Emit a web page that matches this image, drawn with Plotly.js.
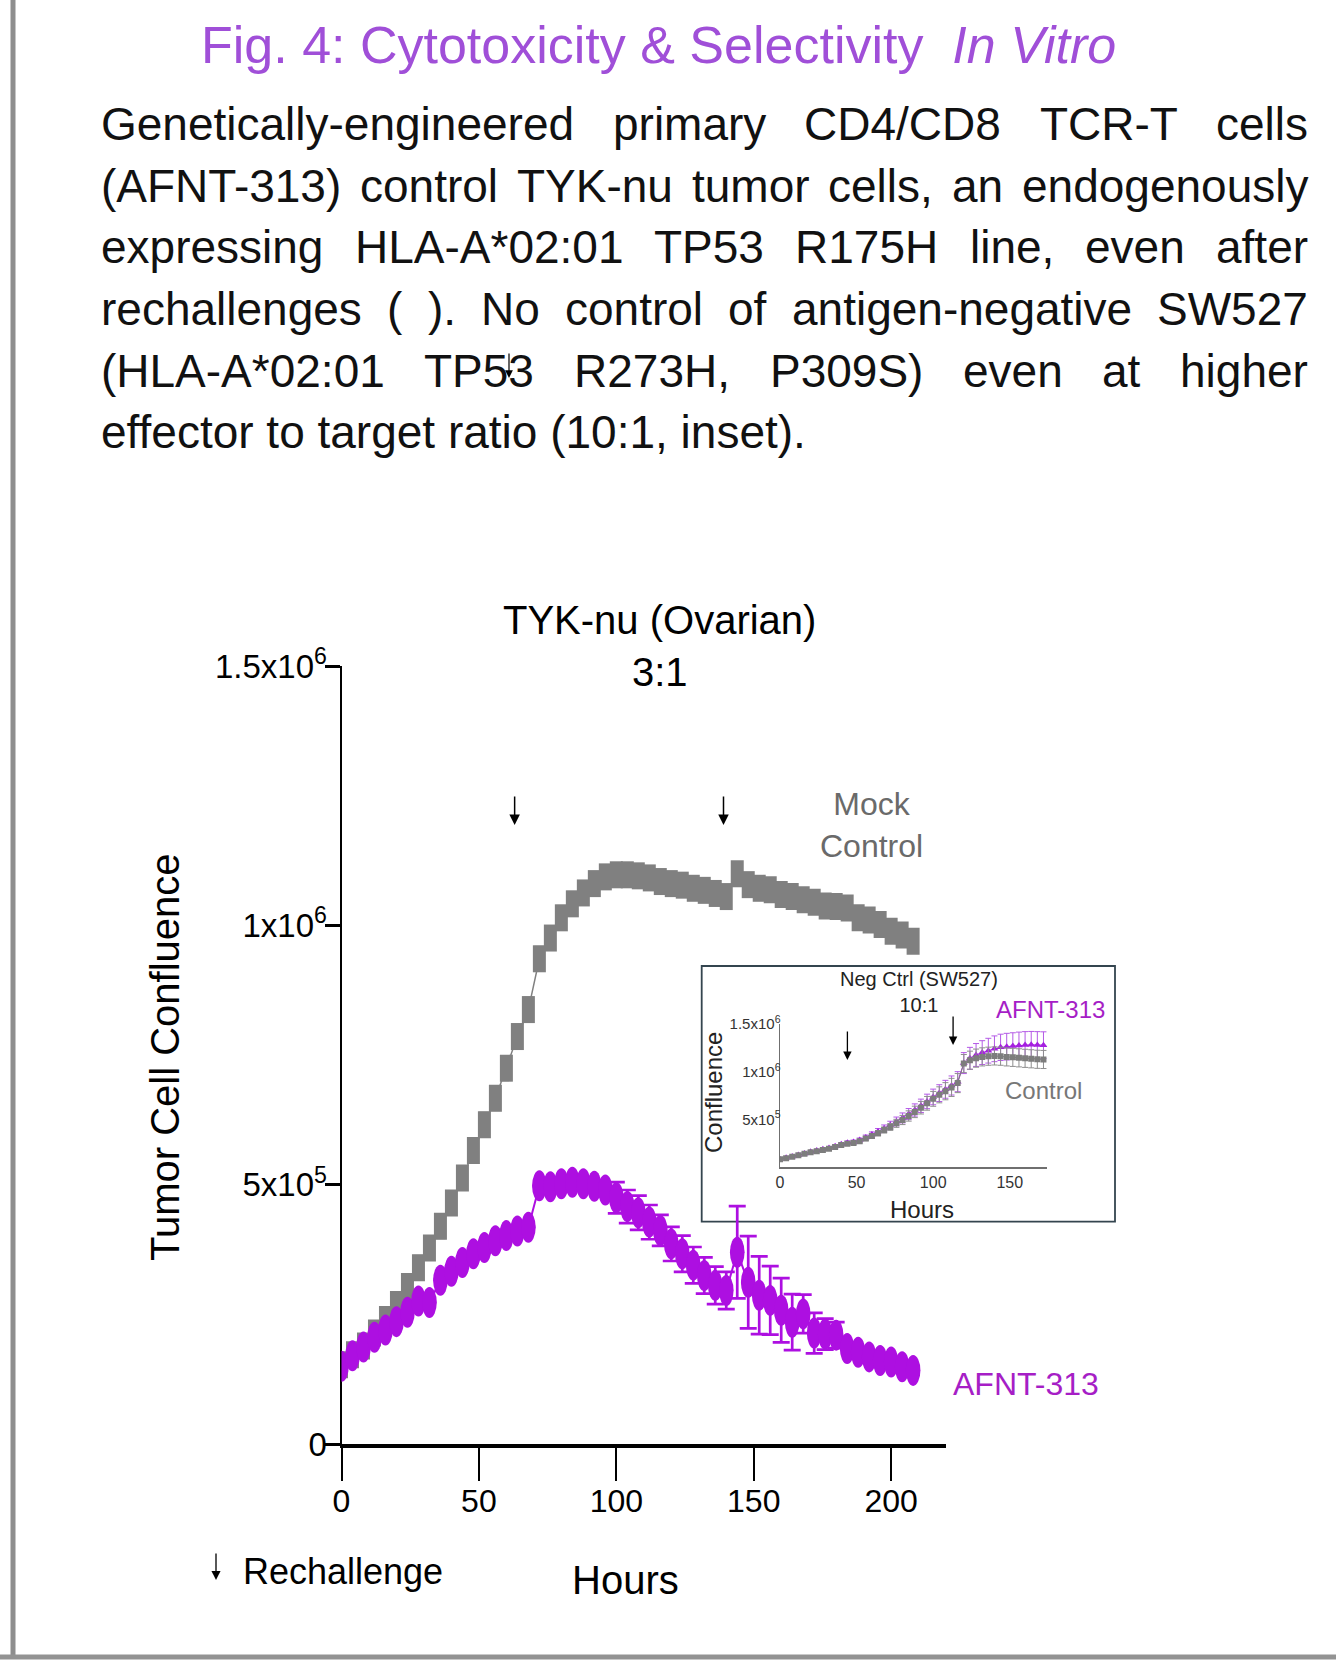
<!DOCTYPE html>
<html>
<head>
<meta charset="utf-8">
<script src="https://cdn.plot.ly/plotly-3.0.1.min.js"></script>
<style>
html,body{margin:0;padding:0;background:#fff;}
#chart{width:1336px;height:1667px;}
</style>
</head>
<body>
<div id="chart"></div>
<script>
// ================= DATA =================
// Main panel: TYK-nu (Ovarian) 3:1
const hours = [0,4,8,12,16,20,24,28,32,36,40,44,48,52,56,60,64,68,72,76,80,84,88,92,96,100,104,108,112,116,120,124,128,132,136,140,144,148,152,156,160,164,168,172,176,180,184,188,192,196,200,204,208];
const mockControl = [153000,172000,189000,214000,240000,269000,304000,340000,378000,420000,465000,513000,566000,616000,667000,725000,786000,838000,936000,976000,1015000,1042000,1063000,1081000,1094000,1098000,1098000,1096000,1092000,1085000,1081000,1078000,1072000,1068000,1062000,1056000,1100000,1079000,1072000,1069000,1060000,1056000,1050000,1045000,1038000,1037000,1034000,1015000,1011000,1002000,989000,982000,970000];
const mockControlSem = [NaN,NaN,NaN,NaN,NaN,NaN,NaN,24000,24000,24000,24000,24000,24000,24000,24000,24000,24000,24000,24000,24000,24000,24000,NaN,NaN,NaN,NaN,NaN,NaN,NaN,NaN,NaN,NaN,NaN,NaN,NaN,NaN,NaN,NaN,NaN,NaN,NaN,NaN,NaN,NaN,NaN,NaN,NaN,NaN,NaN,NaN,NaN,NaN,NaN];
const afnt313 = [150000,170000,187000,206000,220000,236000,254000,276000,273000,316000,333000,350000,367000,379000,392000,402000,411000,418000,498000,496000,502000,505000,502000,497000,490000,475000,458000,446000,428000,412000,386000,367000,345000,325000,306000,296000,370000,312000,287000,277000,258000,235000,251000,214000,212000,210000,184000,177000,168000,161000,158000,149000,142000];
const afnt313Sem = [NaN,NaN,NaN,NaN,NaN,NaN,NaN,NaN,NaN,NaN,NaN,NaN,NaN,NaN,NaN,NaN,NaN,NaN,NaN,NaN,NaN,NaN,NaN,NaN,NaN,30000,32000,33000,33000,30000,33000,35000,35000,35000,36000,36000,89000,89000,75000,66000,62000,54000,37000,39000,30000,25000,NaN,NaN,NaN,NaN,NaN,NaN,NaN];
const xTickVals = [0,50,100,150,200];
const yTickVals = [0,500000,1000000,1500000];
const yTickText = ['0','5x10<sup>5</sup>','1x10<sup>6</sup>','1.5x10<sup>6</sup>'];
const rechallengeHours = [63,139];

// Inset: Neg Ctrl (SW527) 10:1
const insetHours = [0,4,8,12,16,20,24,28,32,36,40,44,48,52,56,60,64,68,72,76,80,84,88,92,96,100,104,108,112,116,120,124,128,132,136,140,144,148,152,156,160,164,168,172];
const insetControl = [80000,93000,107000,122000,138000,154000,166000,178000,192000,210000,230000,245000,252000,270000,298000,325000,355000,388000,420000,458000,493000,535000,578000,622000,668000,715000,757000,795000,835000,880000,1085000,1120000,1142000,1155000,1162000,1165000,1162000,1155000,1150000,1145000,1140000,1135000,1130000,1128000];
const insetControlSem = [8000,8000,9000,9000,10000,10000,11000,12000,13000,14000,15000,16000,17000,19000,22000,25000,28000,32000,36000,42000,48000,54000,60000,66000,72000,78000,84000,90000,95000,100000,95000,95000,95000,95000,95000,95000,95000,95000,95000,95000,95000,95000,95000,95000];
const insetAfnt = [82000,96000,110000,126000,142000,160000,172000,186000,200000,218000,238000,255000,262000,282000,310000,340000,372000,405000,440000,478000,515000,555000,598000,642000,688000,735000,775000,815000,855000,895000,1090000,1140000,1175000,1200000,1220000,1240000,1255000,1262000,1268000,1275000,1280000,1282000,1280000,1278000];
const insetAfntSem = [10000,10000,11000,11000,12000,12000,13000,14000,15000,16000,18000,19000,20000,22000,25000,28000,32000,36000,40000,46000,52000,58000,64000,70000,76000,82000,88000,94000,100000,105000,110000,115000,120000,125000,130000,135000,138000,140000,140000,140000,140000,140000,140000,140000];
const insetXTickVals = [0,50,100,150];
const insetYTickVals = [500000,1000000,1500000];
const insetYTickText = ['5x10<sup>5</sup>','1x10<sup>6</sup>','1.5x10<sup>6</sup>'];
const insetRechallengeHours = [44,113];

// Text
const figTitle = 'Fig. 4: Cytotoxicity &amp; Selectivity\u00a0 <i>In Vitro</i>';
const bodyLines = [
  'Genetically-engineered primary CD4/CD8 TCR-T cells',
  '(AFNT-313) control TYK-nu tumor cells, an endogenously',
  'expressing HLA-A*02:01 TP53 R175H line, even after',
  'rechallenges ( ). No control of antigen-negative SW527',
  '(HLA-A*02:01 TP53 R273H, P309S) even at higher',
  'effector to target ratio (10:1, inset).'
];

// ================= LAYOUT HELPERS =================
const W = 1336, H = 1667;
const FONT = '"Liberation Sans", Arial, Helvetica, sans-serif';
const px = x => x / W;
const py = y => 1 - y / H;

const MAIN = {left: 341.5, right: 946.1, top: 666.4, bottom: 1444, xMax: 220, yMax: 1500000};
const INSET = {left: 780, right: 1047.3, top: 1024, bottom: 1167, xMax: 174.5, yMax: 1500000};
const pxPerHour = (MAIN.right - MAIN.left) / MAIN.xMax;
const pxPerUnit = (MAIN.bottom - MAIN.top) / MAIN.yMax;

const PURPLE = '#ad0fe1';
const GRAY = '#808080';

// ================= TRACES =================
const traces = [
  { // Mock Control connecting line
    x: hours, y: mockControl, xaxis: 'x', yaxis: 'y', type: 'scatter', mode: 'lines',
    line: {color: GRAY, width: 1.5},
    hoverinfo: 'skip', showlegend: false
  },
  { // Mock Control SEM (falls inside the markers)
    x: hours, y: mockControl, xaxis: 'x', yaxis: 'y', type: 'scatter', mode: 'markers',
    marker: {size: 2, opacity: 0},
    error_y: {type: 'data', array: mockControlSem, thickness: 1, width: 5, color: GRAY},
    hoverinfo: 'skip', showlegend: false
  },
  { // AFNT-313
    x: hours, y: afnt313, xaxis: 'x', yaxis: 'y', type: 'scatter', mode: 'lines+markers',
    line: {color: PURPLE, width: 2},
    marker: {symbol: 'circle', size: 14, color: PURPLE},
    error_y: {type: 'data', array: afnt313Sem, thickness: 2.7, width: 8.5, color: PURPLE},
    hoverinfo: 'skip', showlegend: false
  },
  { // Inset AFNT-313
    x: insetHours, y: insetAfnt, xaxis: 'x2', yaxis: 'y2', type: 'scatter', mode: 'lines+markers',
    line: {color: '#a51fe0', width: 1},
    marker: {symbol: 'triangle-up', size: 7, color: '#a51fe0'},
    error_y: {type: 'data', array: insetAfntSem, thickness: 1, width: 3, color: '#b45ae6'},
    hoverinfo: 'skip', showlegend: false
  },
  { // Inset Control
    x: insetHours, y: insetControl, xaxis: 'x2', yaxis: 'y2', type: 'scatter', mode: 'lines+markers',
    line: {color: '#7d7d7d', width: 1},
    marker: {symbol: 'square', size: 6, color: '#7d7d7d'},
    error_y: {type: 'data', array: insetControlSem, thickness: 1, width: 3, color: '#8e8e8e'},
    hoverinfo: 'skip', showlegend: false
  }
];

// ================= SHAPES =================
const shapes = [];
// page frame
shapes.push({type: 'line', xref: 'paper', yref: 'paper', x0: px(13), x1: px(13), y0: py(0), y1: py(1659), line: {color: '#8e8e8e', width: 5}, layer: 'above'});
shapes.push({type: 'line', xref: 'paper', yref: 'paper', x0: 0, x1: 1, y0: py(1657), y1: py(1657), line: {color: '#939393', width: 5}, layer: 'above'});
// inset frame
shapes.push({type: 'rect', xref: 'paper', yref: 'paper', x0: px(701.7), x1: px(1115), y0: py(1221.7), y1: py(966), line: {color: '#34454f', width: 1.8}, layer: 'below'});
// Mock Control tall rectangular markers, one per data point (under all traces)
const rectHalfW = 6.5 / pxPerHour;
const rectHalfH = 13.5 / pxPerUnit;
hours.forEach((h, i) => {
  shapes.push({type: 'rect', xref: 'x', yref: 'y', layer: 'below',
    x0: h - rectHalfW, x1: h + rectHalfW, y0: mockControl[i] - rectHalfH, y1: mockControl[i] + rectHalfH,
    fillcolor: GRAY, line: {width: 0}});
});
// AFNT-313 tall elliptical markers, one per data point
const ellHalfW = 7.3 / pxPerHour;
const ellHalfH = 15.5 / pxPerUnit;
hours.forEach((h, i) => {
  shapes.push({type: 'circle', xref: 'x', yref: 'y', layer: 'above',
    x0: h - ellHalfW, x1: h + ellHalfW, y0: afnt313[i] - ellHalfH, y1: afnt313[i] + ellHalfH,
    fillcolor: PURPLE, line: {width: 0}});
});

// ================= ANNOTATIONS =================
const annotations = [];
const A = o => annotations.push(Object.assign({xref: 'paper', yref: 'paper', showarrow: false, borderpad: 0, borderwidth: 0,
  xanchor: 'center', yanchor: 'middle', font: {family: FONT, size: 32, color: '#000'}}, o));

A({text: figTitle, x: px(658), y: py(45), font: {family: FONT, size: 52, color: '#a04fd8'}});

// justified paragraph
const bodySize = 46;
const ctx = document.createElement('canvas').getContext('2d');
ctx.font = bodySize + 'px "Liberation Sans"';
const bodyLeft = 101, bodyRight = 1308;
const bodyCenters = [124, 186, 247, 309, 371, 432];
bodyLines.forEach((line, li) => {
  const yc = py(bodyCenters[li]);
  const bf = {family: FONT, size: bodySize, color: '#111'};
  if (li === bodyLines.length - 1) {
    A({text: line, x: px(bodyLeft), y: yc, xanchor: 'left', font: bf});
    return;
  }
  const words = line.split(' ');
  const widths = words.map(w => ctx.measureText(w).width);
  const total = widths.reduce((a, b) => a + b, 0);
  const gap = (bodyRight - bodyLeft - total) / (words.length - 1);
  let x = bodyLeft;
  words.forEach((w, i) => {
    A({text: w, x: px(x), y: yc, xanchor: 'left', font: bf});
    x += widths[i] + gap;
  });
});
// stray arrow in paragraph
annotations.push({xref: 'paper', yref: 'paper', x: px(509), y: py(378), ax: 0, ay: -26, text: '', showarrow: true,
  arrowhead: 2, arrowsize: 1.3, arrowwidth: 1.2, arrowcolor: '#000', standoff: 0});

// main chart texts
A({text: 'TYK-nu (Ovarian)<br>3:1', x: px(659), y: py(646), font: {family: FONT, size: 40, color: '#000'}});
A({text: 'Tumor Cell Confluence', x: px(165), y: py(1057), textangle: -90, font: {family: FONT, size: 40, color: '#000'}});
A({text: 'Hours', x: px(625), y: py(1580), font: {family: FONT, size: 40, color: '#000'}});
A({text: 'Mock<br>Control', x: px(871), y: py(825), font: {family: FONT, size: 32, color: '#6a6a6a'}});
A({text: 'AFNT-313', x: px(1026), y: py(1384), font: {family: FONT, size: 32, color: '#a61ec6'}});
rechallengeHours.forEach(h => annotations.push({xref: 'x', yref: 'y', x: h, y: 1194000, ax: 0, ay: -30, text: '',
  showarrow: true, arrowhead: 2, arrowsize: 1.4, arrowwidth: 1.5, arrowcolor: '#000', standoff: 0}));
// legend for arrow
annotations.push({xref: 'paper', yref: 'paper', x: px(216), y: py(1580), ax: 0, ay: -28, text: '', showarrow: true,
  arrowhead: 2, arrowsize: 1.4, arrowwidth: 1.3, arrowcolor: '#000', standoff: 0});
A({text: 'Rechallenge', x: px(243), y: py(1571), xanchor: 'left', font: {family: FONT, size: 36, color: '#000'}});

// inset texts
A({text: 'Neg Ctrl (SW527)<br>10:1', x: px(919), y: py(992), font: {family: FONT, size: 20, color: '#222'}});
A({text: 'AFNT-313', x: px(1050), y: py(1009), font: {family: FONT, size: 24, color: '#a61ec6'}});
A({text: 'Control', x: px(1043), y: py(1090), font: {family: FONT, size: 24, color: '#777'}});
A({text: 'Confluence', x: px(713), y: py(1093), textangle: -90, font: {family: FONT, size: 24, color: '#222'}});
A({text: 'Hours', x: px(922), y: py(1209), font: {family: FONT, size: 24, color: '#222'}});
insetRechallengeHours.forEach((h, i) => annotations.push({xref: 'x2', yref: 'y2', x: h, y: [1122000, 1280000][i], ax: 0, ay: -30, text: '',
  showarrow: true, arrowhead: 2, arrowsize: 1.3, arrowwidth: 1.3, arrowcolor: '#000', standoff: 0}));

// ================= LAYOUT =================
const layout = {
  width: W, height: H,
  margin: {l: 0, r: 0, t: 0, b: 0, pad: 0},
  paper_bgcolor: '#fff', plot_bgcolor: 'rgba(0,0,0,0)',
  showlegend: false,
  font: {family: FONT, color: '#000'},
  xaxis: {
    domain: [px(MAIN.left), px(MAIN.right)], range: [0, MAIN.xMax], anchor: 'y',
    showline: true, linecolor: '#000', linewidth: 4, showgrid: false, zeroline: false,
    ticks: 'outside', ticklen: 33, tickwidth: 2, tickcolor: '#000', ticklabelstandoff: -7,
    tickvals: xTickVals, tickfont: {family: FONT, size: 32, color: '#000'}
  },
  yaxis: {
    domain: [py(MAIN.bottom), py(MAIN.top)], range: [0, MAIN.yMax], anchor: 'x',
    showline: true, linecolor: '#000', linewidth: 2, showgrid: false, zeroline: false,
    ticks: 'outside', ticklen: 15, tickwidth: 3, tickcolor: '#000', ticklabelstandoff: -9,
    tickvals: yTickVals, ticktext: yTickText, tickfont: {family: FONT, size: 33, color: '#000'}
  },
  xaxis2: {
    domain: [px(INSET.left), px(INSET.right)], range: [0, INSET.xMax], anchor: 'y2',
    showline: true, linecolor: '#6f6f6f', linewidth: 2, showgrid: false, zeroline: false,
    ticks: '', tickvals: insetXTickVals, tickfont: {family: FONT, size: 16, color: '#333'}
  },
  yaxis2: {
    domain: [py(INSET.bottom), py(INSET.top)], range: [0, INSET.yMax], anchor: 'x2',
    showline: true, linecolor: '#6f6f6f', linewidth: 1.5, showgrid: false, zeroline: false,
    ticks: '', ticklabelstandoff: -5, tickvals: insetYTickVals, ticktext: insetYTickText,
    tickfont: {family: FONT, size: 15, color: '#333'}
  },
  shapes: shapes,
  annotations: annotations
};

Plotly.newPlot('chart', traces, layout, {staticPlot: true, displayModeBar: false});
</script>
</body>
</html>
